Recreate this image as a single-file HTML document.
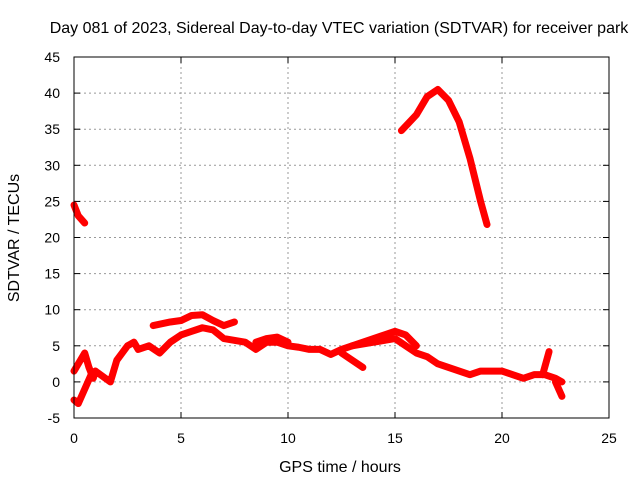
<!DOCTYPE html>
<html><head><meta charset="utf-8"><style>
body{margin:0;background:#fff}
svg{display:block;font-family:"Liberation Sans",sans-serif;font-size:14px}
</style></head><body>
<svg id="chart" width="640" height="480">
<text x="339" y="33" text-anchor="middle" font-size="16">Day 081 of 2023, Sidereal Day-to-day VTEC variation (SDTVAR) for receiver park</text>
<text x="340" y="472" text-anchor="middle" font-size="16">GPS time / hours</text>
<text transform="translate(19,238) rotate(-90)" text-anchor="middle" font-size="16">SDTVAR / TECUs</text>
<g id="grid"></g><g id="marks"></g>
<rect x="74" y="57" width="535" height="361" fill="none" stroke="#000"/>
</svg>
<script>
const xTicks=[0,5,10,15,20,25];
const yTicks=[-5,0,5,10,15,20,25,30,35,40,45];
const seriesMainH=[0,0.3,0.5,0.7,0.9,1.0,1.7,2,2.5,2.8,3,3.5,4,4.5,5,5.5,6,6.5,7,8,8.5,9,9.5,10,10.5,11,11.5,12,12.5,13,14,15,15.5,16,16.5,17,17.5,18,18.5,19,19.5,20,20.5,21,21.5,22,22.5,22.8];
const seriesMainV=[1.5,3,4,2,0.5,1.5,0,3,5,5.5,4.5,5,4,5.5,6.5,7,7.5,7.2,6,5.5,4.5,5.5,5.5,5,4.8,4.5,4.5,3.8,4.5,5,5.5,6,5,4,3.5,2.5,2,1.5,1,1.5,1.5,1.5,1,0.5,1,1,0.5,0];
const seriesLowH=[0,0.2,0.5,0.8,1.0];
const seriesLowV=[-2.5,-3,-1,1,1.5];
const seriesUpperH=[3.7,4.5,5,5.5,6,6.5,7,7.5];
const seriesUpperV=[7.8,8.3,8.5,9.2,9.3,8.5,7.8,8.3];
const seriesMidH=[8.5,9,9.5,10];
const seriesMidV=[5.5,6,6.2,5.5];
const seriesBandH=[13,14,15,15.5,16];
const seriesBandV=[5,6,7,6.5,5];
const seriesSpurH=[12.5,13.5];
const seriesSpurV=[4,2];
const seriesSpur2H=[21.9,22.2];
const seriesSpur2V=[1,4.2];
const seriesSpur3H=[22.5,22.8];
const seriesSpur3V=[0,-2];
const seriesStartH=[0,0.2,0.5];
const seriesStartV=[24.5,23,22];
const seriesArcH=[15.3,16,16.5,17,17.5,18,18.5,19,19.3];
const seriesArcV=[34.8,37,39.5,40.5,39,36,31,25,21.8];
const NS='http://www.w3.org/2000/svg';
const X=h=>74+h*535/25, Y=v=>57+(45-v)*361/50;
const grid=document.getElementById('grid'), marks=document.getElementById('marks');
function mk(t,a,p){const e=document.createElementNS(NS,t);for(const k in a)e.setAttribute(k,a[k]);p.appendChild(e);return e;}
xTicks.forEach(t=>{
 if(t>0&&t<25){const l=mk('line',{x1:X(t),x2:X(t),y1:57,y2:418,stroke:'#999','stroke-dasharray':'2,3'},grid);
 
 }
 mk('line',{x1:X(t),x2:X(t),y1:418,y2:412,stroke:'#000'},grid);
 mk('line',{x1:X(t),x2:X(t),y1:57,y2:63,stroke:'#000'},grid);
 const tx=mk('text',{x:X(t),y:443,'text-anchor':'middle'},grid);tx.textContent=t;
 
 
});
yTicks.forEach(t=>{
 if(t>-5&&t<45){const l=mk('line',{x1:74,x2:609,y1:Y(t),y2:Y(t),stroke:'#999','stroke-dasharray':'2,3'},grid);
 
 }
 mk('line',{x1:74,x2:80,y1:Y(t),y2:Y(t),stroke:'#000'},grid);
 mk('line',{x1:609,x2:603,y1:Y(t),y2:Y(t),stroke:'#000'},grid);
 const tx=mk('text',{x:60,y:Y(t)+5,'text-anchor':'end'},grid);tx.textContent=t;
 
 
});
function series(H,V,name){
 const pts=H.map((h,i)=>X(h)+','+Y(V[i])).join(' ');
 const p=mk('polyline',{points:pts,fill:'none',stroke:'#f00','stroke-width':7,'stroke-linejoin':'round','stroke-linecap':'round'},marks);
 
 
}
series(seriesMainH,seriesMainV,'series-main');
series(seriesLowH,seriesLowV,'series-low');
series(seriesUpperH,seriesUpperV,'series-upper');
series(seriesMidH,seriesMidV,'series-mid');
series(seriesBandH,seriesBandV,'series-band');
series(seriesSpurH,seriesSpurV,'series-spur');
series(seriesSpur2H,seriesSpur2V,'series-spur2');
series(seriesSpur3H,seriesSpur3V,'series-spur3');
series(seriesStartH,seriesStartV,'series-start');
series(seriesArcH,seriesArcV,'series-arc');
</script>
</body></html>
